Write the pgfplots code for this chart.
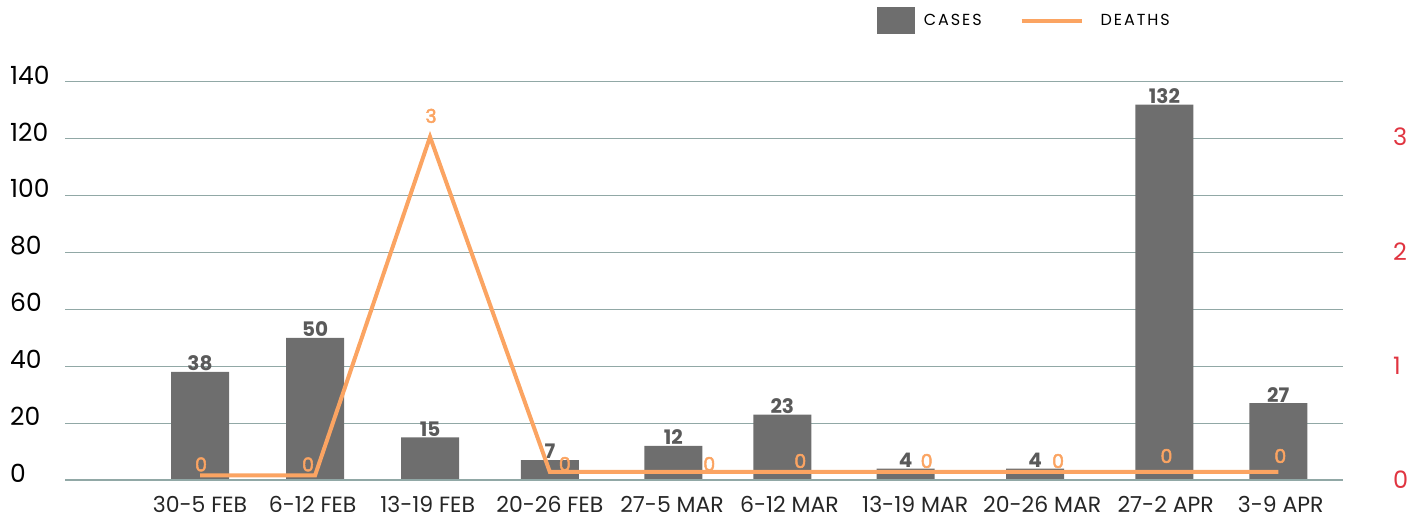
\documentclass[border=0pt]{standalone}
\usepackage{pgfplots}
\pgfplotsset{compat=1.18}
\usepackage{pgfplotstable}
\usepackage{fontspec}
\setmainfont{Poppins}
\newfontfamily\legfont[LetterSpace=12]{Poppins}
\newfontfamily\medfont[FakeBold=2.5]{Poppins}
\definecolor{barcol}{HTML}{6E6E6E}
\definecolor{linecol}{HTML}{FBA462}
\definecolor{gridcol}{HTML}{91A8A6}
\definecolor{redlab}{HTML}{E03440}
\definecolor{lblcol}{HTML}{5A5A5A}
\pgfplotstableread{
x cases
0.00 38
0.96 50
1.92 15
2.92 7
3.95 12
4.86 23
5.89 4
6.97 4
8.05 132
9.00 27
}\casestable
\pgfplotstableread{
x deaths lbl dx dy
0.00 0.04 0 1 11
0.96 0.04 0 -7 11
1.92 3.00 3 1 21
2.92 0.07 0 15 8
3.95 0.07 0 36 8
4.86 0.07 0 18 11
5.89 0.07 0 21 11
6.97 0.07 0 23 11
8.05 0.07 0 2 16
9.00 0.07 0 2 16
}\deathstable
\begin{document}
\begin{tikzpicture}
\path[use as bounding box] (0,0) rectangle (1421bp,520bp);
\begin{axis}[at={(65bp,40bp)}, anchor=south west, scale only axis,
  width=1278bp, height=398bp,
  xmin=-1.127, xmax=9.54, ymin=0, ymax=140,
  ytick={0,20,...,140}, xtick={0,0.94,1.90,2.92,3.94,4.92,5.97,7.03,8.06,9.02},
  xticklabels={30-5 FEB,6-12 FEB,13-19 FEB,20-26 FEB,27-5 MAR,6-12 MAR,13-19 MAR,20-26 MAR,27-2 APR,3-9 APR},
  axis line style={draw=none}, major tick length=0,
  ymajorgrids, grid style={gridcol, line width=1bp},
  /pgf/number format/assume math mode=true,
  yticklabel style={anchor=west, inner sep=0pt, xshift=-55bp, yshift=7bp, font=\fontsize{25bp}{27bp}\selectfont, text=black},
  xticklabel style={font=\fontsize{22bp}{23bp}\selectfont, text=black!85, yshift=-13bp},
  clip=false]
\addplot[ybar, bar width=58bp, fill=barcol, draw=none,
  nodes near coords,
  nodes near coords style={font=\bfseries\fontsize{20bp}{21bp}\selectfont, text=lblcol, anchor=south, inner sep=1bp}]
  table[x=x,y=cases]{\casestable};
\draw[gridcol, line width=2.5bp] (rel axis cs:0,0) -- (rel axis cs:1,0);
\end{axis}
\begin{axis}[at={(65bp,40bp)}, anchor=south west, scale only axis,
  width=1278bp, height=398bp,
  xmin=-1.127, xmax=9.54, ymin=0, ymax=3.48,
  axis y line*=right, axis x line=none,
  ytick={0,1,2,3}, axis line style={draw=none}, major tick length=0,
  /pgf/number format/assume math mode=true,
  yticklabel style={anchor=west, inner sep=0pt, xshift=50bp, font=\fontsize{24bp}{25bp}\selectfont, text=redlab},
  legend style={at={(0.6325,1.193)}, anchor=north west, draw=none, fill=none,
    legend columns=2, font=\legfont\fontsize{16bp}{18bp}\selectfont,
    nodes={inner sep=0pt},
    /tikz/column 1/.style={column sep=10bp},
    /tikz/column 2/.style={column sep=38bp},
    /tikz/column 3/.style={column sep=17bp},
    legend cell align=left},
  clip=false]
\addlegendimage{legend image code/.code={\fill[barcol] (0bp,-13bp) rectangle (37bp,13bp);}}
\addlegendimage{legend image code/.code={\draw[linecol, line width=4bp] (0bp,0bp) -- (60bp,0bp);}}
\legend{CASES,DEATHS}
\addplot[linecol, line width=4bp, mark=none,
  visualization depends on={\thisrow{dx} \as \ldx},
  visualization depends on={\thisrow{dy} \as \ldy},
  nodes near coords, point meta=explicit symbolic,
  nodes near coords style={font=\medfont\fontsize{19bp}{20bp}\selectfont, text=linecol, anchor=center, inner sep=0pt, xshift=\ldx bp, yshift=\ldy bp}]
  table[x=x,y=deaths,meta=lbl]{\deathstable};
\end{axis}
\end{tikzpicture}
\end{document}
